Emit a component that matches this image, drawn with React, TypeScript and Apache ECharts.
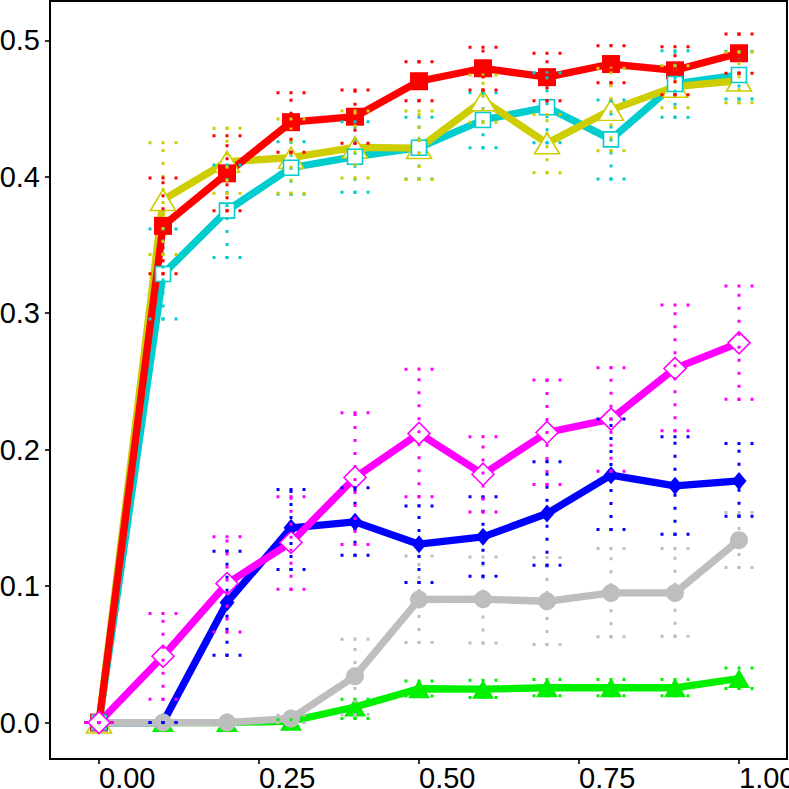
import React, { useEffect, useRef } from "react";
import * as echarts from "echarts";

const xs = [0, 0.1, 0.2, 0.3, 0.4, 0.5, 0.6, 0.7, 0.8, 0.9, 1.0];
const xTicks = [0, 0.25, 0.5, 0.75, 1.0];
const yTicks = [0, 0.1, 0.2, 0.3, 0.4, 0.5];

const red = [0, 0.364, 0.4025, 0.44, 0.444, 0.47, 0.4795, 0.473, 0.4826, 0.478, 0.4905];
const redLo = [0, 0.329, 0.375, 0.418, 0.4245, 0.4557, 0.4636, 0.4557, 0.4689, 0.4601, 0.4758];
const redHi = [0, 0.399, 0.43, 0.4616, 0.4636, 0.4843, 0.4949, 0.4905, 0.496, 0.4953, 0.5046];

const yellow = [0, 0.383, 0.411, 0.414, 0.4215, 0.421, 0.456, 0.4245, 0.449, 0.466, 0.4705];
const yellowLo = [0, 0.343, 0.388, 0.388, 0.399, 0.398, 0.44, 0.403, 0.419, 0.4506, 0.4543];
const yellowHi = [0, 0.425, 0.4355, 0.4423, 0.4482, 0.4482, 0.4746, 0.4457, 0.4795, 0.4814, 0.4912];

const cyan = [0, 0.3287, 0.3752, 0.4066, 0.4147, 0.4213, 0.4416, 0.4509, 0.4274, 0.468, 0.4746];
const cyanLo = [0, 0.2957, 0.3409, 0.3871, 0.3886, 0.3983, 0.4213, 0.4249, 0.3983, 0.4436, 0.4569];
const cyanHi = [0, 0.3617, 0.4086, 0.4257, 0.4403, 0.4436, 0.4616, 0.4763, 0.4562, 0.4924, 0.4917];

const magenta = [0, 0.0486, 0.1019, 0.132, 0.1796, 0.2119, 0.182, 0.2126, 0.2224, 0.2595, 0.2783];
const magentaLo = [0, 0.0171, 0.0664, 0.0977, 0.1305, 0.1654, 0.1544, 0.1745, 0.1842, 0.2138, 0.237];
const magentaHi = [0, 0.0799, 0.1361, 0.1654, 0.227, 0.259, 0.2094, 0.251, 0.26, 0.306, 0.32];

const blue = [0, 0, 0.088, 0.1427, 0.1471, 0.1307, 0.1361, 0.1532, 0.1813, 0.1735, 0.1771];
const blueLo = [0, 0, 0.0493, 0.1122, 0.1227, 0.1026, 0.1073, 0.1153, 0.1415, 0.138, 0.1512];
const blueHi = [0, 0, 0.1256, 0.1708, 0.172, 0.1588, 0.1654, 0.1911, 0.2224, 0.2094, 0.2045];

const gray = [0, 0, 0, 0.003, 0.034, 0.0902, 0.0904, 0.0889, 0.095, 0.095, 0.1337];
const grayLo = [0, 0, 0, 0, 0.006, 0.0586, 0.0584, 0.0572, 0.0628, 0.0633, 0.1136];
const grayHi = [0, 0, 0, 0.0054, 0.0611, 0.1221, 0.1214, 0.121, 0.1276, 0.1276, 0.154];

const green = [0, 0, 0, 0.001, 0.0114, 0.0248, 0.0245, 0.0255, 0.0255, 0.0255, 0.0323];
const greenLo = [0, 0, 0, 0, 0.003, 0.0195, 0.0183, 0.0196, 0.0196, 0.0196, 0.0249];
const greenHi = [0, 0, 0, 0.002, 0.0171, 0.0305, 0.031, 0.0315, 0.0315, 0.0315, 0.04];

type Grp = {
  name: string;
  color: string;
  vals: number[];
  lo: number[];
  hi: number[];
  symbol: string;
  size: number | number[];
  open: boolean;
};

const groups: Grp[] = [
  { name: "cyan", color: "#00CDCD", vals: cyan, lo: cyanLo, hi: cyanHi, symbol: "rect", size: 15, open: true },
  { name: "green", color: "#00F000", vals: green, lo: greenLo, hi: greenHi, symbol: "triangle", size: [22, 19], open: false },
  { name: "gray", color: "#BEBEBE", vals: gray, lo: grayLo, hi: grayHi, symbol: "circle", size: 18, open: false },
  { name: "blue", color: "#0000FF", vals: blue, lo: blueLo, hi: blueHi, symbol: "diamond", size: [15, 18], open: false },
  { name: "yellow", color: "#CDCD00", vals: yellow, lo: yellowLo, hi: yellowHi, symbol: "triangle", size: [25, 21], open: true },
  { name: "red", color: "#FF0000", vals: red, lo: redLo, hi: redHi, symbol: "rect", size: 18, open: false },
  { name: "magenta", color: "#FF00FF", vals: magenta, lo: magentaLo, hi: magentaHi, symbol: "diamond", size: 22, open: true },
];

const lineOrder = ["cyan", "yellow", "red", "green", "blue", "gray", "magenta"];
const pointOrder = ["green", "blue", "gray", "yellow", "red", "cyan", "magenta"];

export default function App() {
  const ref = useRef<HTMLDivElement>(null);
  useEffect(() => {
    if (!ref.current) return;
    document.body.style.margin = "0";
    document.documentElement.style.overflow = "hidden";
    const chart = echarts.init(ref.current, null, { renderer: "svg" });
    const byName = (n: string) => groups.find((g) => g.name === n)!;
    const lineSeries = lineOrder.map((n, k) => {
      const g = byName(n);
      return {
        type: "line",
        name: g.name + "-line",
        data: xs.map((x, i) => [x, g.vals[i]]),
        showSymbol: false,
        symbol: "none",
        lineStyle: { color: g.color, width: 7.3, cap: "butt", join: "round" },
        silent: true,
        z: 2,
      };
    });
    const pointSeries = pointOrder.map((n, k) => {
      const g = byName(n);
      return {
        type: "scatter",
        name: g.name + "-pts",
        data: xs.map((x, i) => [x, g.vals[i]]),
        symbol: g.symbol,
        symbolSize: g.size,
        itemStyle: g.open
          ? { color: "#FFFFFF", borderColor: g.color, borderWidth: 1.6, opacity: 1 }
          : { color: g.color, opacity: 1 },
        silent: true,
        z: 3 + k,
      };
    });
    const errSeries = groups.map((g) => ({
      type: "custom",
      name: g.name + "-err",
      data: xs.map((x, i) => [x, g.lo[i], g.hi[i]]),
      silent: true,
      z: 12,
      renderItem: (params: any, api: any) => {
        const x = api.value(0);
        const pLo = api.coord([x, api.value(1)]);
        const pHi = api.coord([x, api.value(2)]);
        const hw = 14.5;
        const style = { stroke: g.color, lineWidth: 3, lineDash: [3, 10], lineCap: "butt", fill: null };
        return {
          type: "group",
          children: [
            { type: "line", shape: { x1: pHi[0], y1: pLo[1] + 1.5, x2: pHi[0], y2: pHi[1] - 1.5 }, style },
            { type: "line", shape: { x1: pHi[0] - hw, y1: pHi[1], x2: pHi[0] + hw, y2: pHi[1] }, style },
            { type: "line", shape: { x1: pLo[0] - hw, y1: pLo[1], x2: pLo[0] + hw, y2: pLo[1] }, style },
          ],
        };
      },
    }));

    const font = "'Liberation Sans', Arial, sans-serif";
    chart.setOption({
      animation: false,
      grid: {
        left: 50,
        right: 2,
        top: 1,
        bottom: 30,
        show: true,
        borderColor: "#000",
        borderWidth: 2,
        backgroundColor: "#fff",
        containLabel: false,
        outerBoundsMode: "none",
      },
      xAxis: {
        type: "value",
        min: -0.0766,
        max: 1.075,
        splitLine: { show: false },
        axisLine: { show: false, onZero: false },
        axisTick: { show: true, length: 5, inside: false, lineStyle: { color: "#000", width: 1.6 }, customValues: xTicks },
        axisLabel: {
          customValues: xTicks,
          formatter: (v: number) => v.toFixed(2),
          fontSize: 29,
          fontFamily: font,
          color: "#000",
          align: "left",
          margin: 4,
          hideOverlap: false,
        },
      },
      yAxis: {
        type: "value",
        min: -0.0267,
        max: 0.5288,
        splitLine: { show: false },
        axisLine: { show: false, onZero: false },
        axisTick: { show: true, length: 5, inside: false, lineStyle: { color: "#000", width: 1.6 }, customValues: yTicks },
        axisLabel: {
          customValues: yTicks,
          formatter: (v: number) => v.toFixed(1),
          fontSize: 29,
          fontFamily: font,
          color: "#000",
          margin: 10,
        },
      },
      series: [...lineSeries, ...pointSeries, ...errSeries],
    });
    const onResize = () => chart.resize();
    window.addEventListener("resize", onResize);
    return () => {
      window.removeEventListener("resize", onResize);
      chart.dispose();
    };
  }, []);
  return (
    <div
      ref={ref}
      style={{ position: "fixed", left: 0, top: 0, width: "100vw", height: "100vh", background: "#fff" }}
    />
  );
}
